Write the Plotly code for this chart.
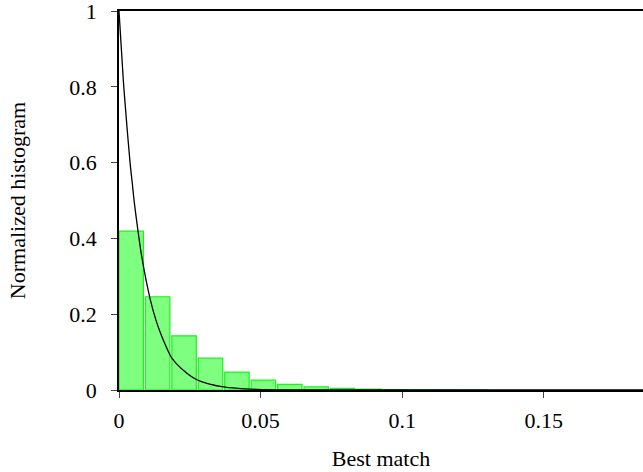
import plotly.graph_objects as go

# Histogram bins (bin width)
bin_width = 0.00933
bar_heights = [0.419, 0.246, 0.143, 0.084, 0.047, 0.026, 0.015, 0.008,
               0.0045, 0.0022, 0.0011, 0.0006, 0.0003, 0.00015]

# Fitted curve points
curve_x = [0, 0.0015, 0.002, 0.0039, 0.0047, 0.0054, 0.0068, 0.008, 0.011,
           0.0131, 0.0145, 0.0165, 0.0186, 0.022, 0.0275, 0.032, 0.0363,
           0.042, 0.0487, 0.06, 0.08, 0.1, 0.185]
curve_y = [1, 0.82, 0.77, 0.60, 0.545, 0.495, 0.415, 0.353, 0.24,
           0.183, 0.153, 0.117, 0.085, 0.057, 0.027, 0.0156, 0.0088,
           0.0042, 0.0018, 0.0004, 0.00003, 0, 0]

x_ticks = [0, 0.05, 0.1, 0.15]
x_tick_labels = ["0", "0.05", "0.1", "0.15"]
y_ticks = [0, 0.2, 0.4, 0.6, 0.8, 1]
y_tick_labels = ["0", "0.2", "0.4", "0.6", "0.8", "1"]

gap = 0.0007
bar_x = [i * bin_width + (bin_width - gap) / 2 for i in range(len(bar_heights))]

font_family = "Liberation Serif, Times New Roman, serif"

fig = go.Figure()
fig.add_trace(go.Bar(
    x=bar_x, y=bar_heights, width=bin_width - gap,
    marker=dict(color="rgba(0,255,0,0.5)", line=dict(color="rgb(30,240,30)", width=1.2)),
    showlegend=False, hoverinfo="skip",
))
fig.add_trace(go.Scatter(
    x=curve_x, y=curve_y, mode="lines", line=dict(color="black", width=1.3),
    line_shape="spline", showlegend=False, hoverinfo="skip", cliponaxis=False,
))

fig.update_layout(
    width=643, height=472,
    margin=dict(l=119, r=0, t=11, b=82),
    paper_bgcolor="white", plot_bgcolor="white",
    font=dict(family=font_family, size=22, color="black"),
    xaxis=dict(
        range=[0, 0.185], tickvals=x_ticks, ticktext=x_tick_labels,
        showline=True, linecolor="black", linewidth=1.5, mirror=True,
        ticks="outside", ticklen=6, tickcolor="#444", showgrid=False, zeroline=False,
        ticklabelstandoff=4, ticklabeloverflow="allow",
        title=dict(text="Best match", font=dict(size=22), standoff=18),
    ),
    yaxis=dict(
        range=[0, 1], tickvals=y_ticks, ticktext=y_tick_labels,
        showline=True, linecolor="black", linewidth=1.5, mirror=False,
        ticks="outside", ticklen=6, tickcolor="#444", showgrid=False, zeroline=False,
        ticklabelstandoff=10, ticklabeloverflow="allow",
        title=dict(text="Normalized histogram", font=dict(size=22), standoff=38),
    ),
)

fig.write_html("out.html")
